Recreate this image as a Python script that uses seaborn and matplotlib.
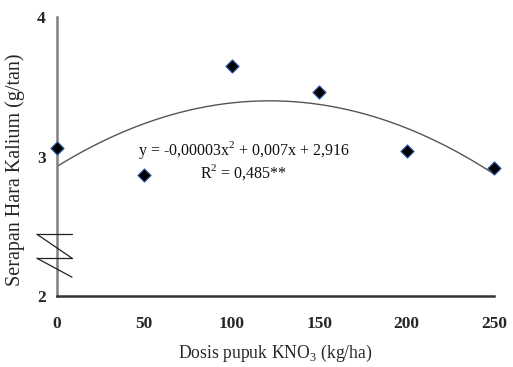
import numpy as np
import pandas as pd
import matplotlib
matplotlib.use("Agg")
import matplotlib.pyplot as plt
import seaborn as sns

dosis = [0, 50, 100, 150, 200, 250]
serapan = [3.06, 2.87, 3.65, 3.46, 3.04, 2.92]
xticks = [0, 50, 100, 150, 200, 250]
yticks = [2, 3, 4]
eq_text = "y = -0,00003x$^2$ + 0,007x + 2,916"
r2_text = "R$^2$ = 0,485**"

sns.set_theme(style="white")
plt.rcParams['font.family'] = ['Liberation Serif', 'DejaVu Serif']
plt.rcParams['mathtext.fontset'] = 'custom'
plt.rcParams['mathtext.rm'] = 'Liberation Serif'

fig = plt.figure(figsize=(5.13, 3.67), dpi=100)
ax = fig.add_axes([0.111, 0.193, 0.852, 0.761])

df = pd.DataFrame({"x": dosis, "y": serapan})

# quadratic trend from data
coef = np.polyfit(dosis, serapan, 2)
xs = np.linspace(0, 250, 200)
ax.plot(xs, np.polyval(coef, xs), color="#555555", lw=1.0, zorder=2)

sns.scatterplot(data=df, x="x", y="y", marker="D", s=45, color="black",
                edgecolor="#2a5caa", linewidth=0.8, ax=ax, zorder=3, clip_on=False)

ax.set_xlim(0, 250)
ax.set_ylim(2, 4)
ax.set_xticks(xticks)
ax.set_yticks(yticks)
ax.set_xticklabels([str(t) for t in xticks], fontsize=12.5, fontweight="bold")
ax.set_yticklabels([str(t) for t in yticks], fontsize=12.5, fontweight="bold")
ax.tick_params(axis="both", direction="out", length=4, width=1.2, color="#333333")
ax.tick_params(axis="x", pad=10)
ax.tick_params(axis="y", pad=4)

for s in ["top", "right"]:
    ax.spines[s].set_visible(False)
ax.spines["left"].set_color("#808080")
ax.spines["left"].set_linewidth(1.8)
ax.spines["bottom"].set_color("#333333")
ax.spines["bottom"].set_linewidth(1.8)

ax.set_xlabel("Dosis pupuk KNO$_3$ (kg/ha)", fontsize=12.7, labelpad=8)
ax.set_ylabel("Serapan Hara Kalium (g/tan)", fontsize=14.5)
ax.yaxis.set_label_coords(-0.072, 0.452)

ax.text(107, 3.05, eq_text, fontsize=11.5, ha="center", va="center", color="#111111")
ax.text(107, 2.89, r2_text, fontsize=11.5, ha="center", va="center", color="#111111")

# axis break marks
bx0, bx1 = -11.5, 8.6
ya, yb, yc = 2.444, 2.272, 2.136
kw = dict(color="#222222", lw=0.9, clip_on=False, zorder=4)
ax.plot([bx0, bx1], [ya, ya], **kw)
ax.plot([bx0, bx1], [ya, yb], **kw)
ax.plot([bx0, bx1], [yb, yb], **kw)
ax.plot([bx0, bx1], [yb, yc], **kw)

fig.savefig("out.png", dpi=100)
